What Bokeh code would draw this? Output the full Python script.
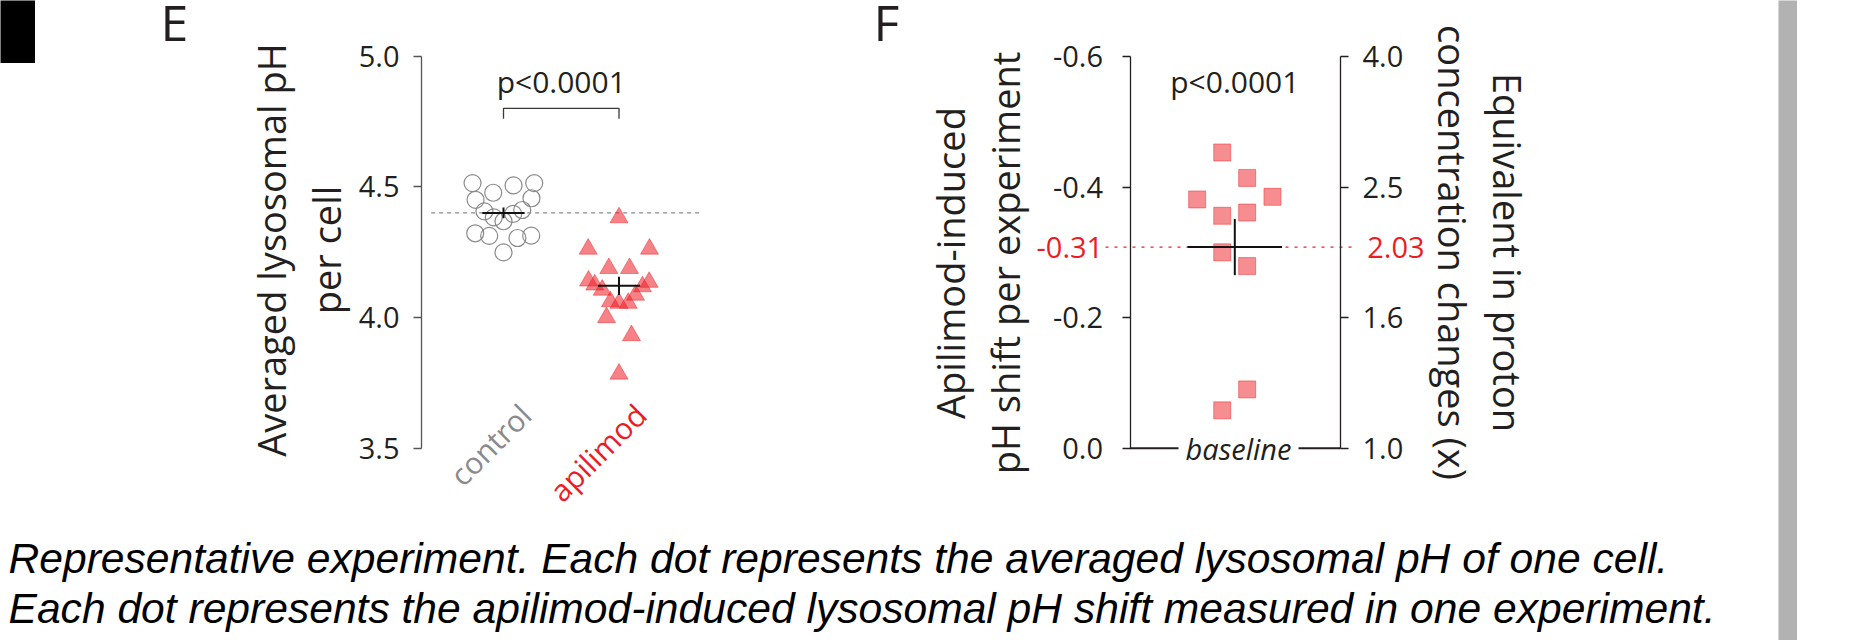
import math
from bokeh.plotting import figure
from bokeh.models import Range1d, FixedTicker, LinearAxis, Spacer
from bokeh.layouts import row, column
from bokeh.embed import file_html
from bokeh.resources import INLINE
from bokeh.core.properties import value

# ---------------------------------------------------------------- data
E_CATEGORIES = ["control", "apilimod"]
E_TICKS = [3.5, 4.0, 4.5, 5.0]
E_TICK_LABELS = ["3.5", "4.0", "4.5", "5.0"]
E_YLABEL = ["Averaged lysosomal pH", "per cell"]

CONTROL_PH = [4.514, 4.477, 4.505, 4.514, 4.450, 4.456, 4.406, 4.383,
              4.368, 4.396, 4.411, 4.322, 4.312, 4.304, 4.313, 4.249]
CONTROL_JITTER = [-0.268, -0.089, 0.087, 0.266, -0.242, 0.242, -0.165, -0.084,
                  0.0, 0.084, 0.162, -0.245, -0.124, 0.121, 0.240, 0.0]

APILIMOD_PH = [4.382, 4.262, 4.262, 4.188, 4.188, 4.140, 4.125, 4.105, 4.135,
               4.118, 4.086, 4.061, 4.055, 4.055, 4.000, 3.931, 3.784]
APILIMOD_JITTER = [0.0, -0.267, 0.264, -0.088, 0.091, -0.264, -0.210, -0.145, 0.261,
                   0.203, 0.143, -0.074, 0.0, 0.080, -0.108, 0.108, 0.0]

E_MEANS = [4.400, 4.121]
E_SEMS = [0.021, 0.035]
E_PVALUE = "p<0.0001"

F_SHIFT = [-0.453, -0.414, -0.381, -0.385, -0.356, -0.361, -0.300, -0.279, -0.090, -0.058]
F_JITTER = [-0.109, 0.107, -0.326, 0.326, -0.109, 0.107, -0.109, 0.107, 0.107, -0.109]
F_MEAN = -0.308
F_SEM = 0.043
F_PVALUE = "p<0.0001"
F_TICKS = [-0.6, -0.4, -0.2, 0.0]
F_LEFT_LABELS = ["-0.6", "-0.4", "-0.2", "0.0"]
F_RIGHT_LABELS = ["4.0", "2.5", "1.6", "1.0"]
F_MEAN_LABELS = ["-0.31", "2.03"]
F_YLABEL_LEFT = ["Apilimod-induced", "pH shift per experiment"]
F_YLABEL_RIGHT = ["Equivalent in proton", "concentration changes (x)"]

CAPTION = ["Representative experiment. Each dot represents the averaged lysosomal pH of one cell.",
           "Each dot represents the apilimod-induced lysosomal pH shift measured in one experiment."]

# ---------------------------------------------------------------- style
FONT = "Open Sans"
INK = "#231f20"
RED = "#ed1c24"
GRAY = "#8a8a8a"

# ---------------------------------------------------------------- geometry (page px)
FIG_TOP, FIG_H = 0, 514
CAT_STEP = 115.5                 # px per category unit
BOX_W, BOX_H = 35, 63
E_LEFT, E_W, E_BORDER = 35, 735, 100
E_CAT_PX = 503.0
E_Y5_PX, E_PPU = 55.5, 261.47
F_LEFT, F_W, F_BORDER = 770, 1008, 90
F_CAT_PX = 1234.3
F_TOP_PX, F_PPU = 56.0, 652.8
CAP_TOP, CAP_H = 514, 126
BAR_W = 19


def ex(px):
    return 1 + (px - E_CAT_PX) / CAT_STEP


def ey(py):
    return 5.0 - (py - E_Y5_PX) / E_PPU


def fx(px):
    return 1 + (px - F_CAT_PX) / CAT_STEP


def fy(py):
    return -0.6 + (py - F_TOP_PX) / F_PPU


def txt(p, x, y, s, size, color=INK, align="center", angle=0.0, style="normal", font=FONT):
    p.text(x=[x], y=[y], text=[s], text_font=value(font),
           text_font_size=value(f"{size}px"), text_color=color,
           text_align=value(align), text_baseline=value("middle"),
           angle=angle, text_font_style=value(style))


def base_fig(w, h, xr, yr, bl, br):
    p = figure(width=w, height=h, x_range=xr, y_range=yr, x_axis_location=None,
               toolbar_location=None, output_backend="svg", min_border=0,
               min_border_left=bl, min_border_right=br,
               outline_line_color=None, background_fill_color="white",
               border_fill_color="white")
    p.grid.visible = False
    return p


def style_axis(ax, ticks, labels, color, standoff):
    ax.ticker = FixedTicker(ticks=ticks)
    ax.major_label_overrides = dict(zip(ticks, labels))
    ax.bounds = (min(ticks), max(ticks))
    ax.minor_tick_line_color = None
    ax.major_tick_in = 0
    ax.major_tick_out = 8
    ax.axis_line_color = color
    ax.axis_line_width = 1.3
    ax.major_tick_line_color = color
    ax.major_tick_line_width = 1.3
    ax.major_label_text_font = FONT
    ax.major_label_text_font_size = "29px"
    ax.major_label_text_color = INK
    ax.major_label_standoff = standoff


# ================================================================ panel E
pE = base_fig(E_W, FIG_H,
              Range1d(ex(E_LEFT + E_BORDER), ex(E_LEFT + E_W)),
              Range1d(ey(FIG_TOP + FIG_H), ey(FIG_TOP)),
              E_BORDER, 0)
style_axis(pE.yaxis[0], E_TICKS, E_TICK_LABELS, "#555555", 14)
pE.yaxis[0].fixed_location = ex(421)

cat_x = [1, 2]
ctrl_x = [cat_x[0] + j for j in CONTROL_JITTER]
api_x = [cat_x[1] + j for j in APILIMOD_JITTER]

# control mean reference line
pE.segment(x0=[ex(430.7)], y0=[E_MEANS[0]], x1=[ex(701.7)], y1=[E_MEANS[0]],
           line_color=GRAY, line_dash="4 4", line_width=1.2)

pE.scatter(x=ctrl_x, y=CONTROL_PH, marker="circle", size=17, fill_color=None,
           line_color=GRAY, line_width=1.2)
pE.scatter(x=api_x, y=APILIMOD_PH, marker="triangle", size=18, fill_color=RED,
           fill_alpha=0.55, line_color=RED, line_alpha=0.45, line_width=1)

half = 0.183
pE.segment(x0=[c - half for c in cat_x], y0=E_MEANS, x1=[c + half for c in cat_x], y1=E_MEANS,
           line_color="#111111", line_width=2)
pE.segment(x0=cat_x, y0=[m - s for m, s in zip(E_MEANS, E_SEMS)],
           x1=cat_x, y1=[m + s for m, s in zip(E_MEANS, E_SEMS)],
           line_color="#111111", line_width=2)

# significance bracket
b_top, b_leg = 4.80, 0.04
pE.line(x=[cat_x[0], cat_x[0], cat_x[1], cat_x[1]],
        y=[b_top - b_leg, b_top, b_top, b_top - b_leg], line_color="#3a3a3a", line_width=1.3)
txt(pE, (cat_x[0] + cat_x[1]) / 2, ey(81.0), E_PVALUE, 30)

# category labels
lab_y = ey(409)
txt(pE, cat_x[0] + 0.19, lab_y, E_CATEGORIES[0], 30, color=GRAY, align="right",
    angle=math.pi / 4)
txt(pE, cat_x[1] + 0.19, lab_y, E_CATEGORIES[1], 30, color=RED, align="right",
    angle=math.pi / 4)

# axis title + panel letter
mid_e = ey(249.5)
txt(pE, ex(270.3), mid_e, E_YLABEL[0], 38, angle=math.pi / 2)
txt(pE, ex(325.0), mid_e, E_YLABEL[1], 38, angle=math.pi / 2)
txt(pE, ex(160), ey(21.0), "E", 50, align="left")

# ================================================================ panel F
pF = base_fig(F_W, FIG_H,
              Range1d(fx(F_LEFT + F_BORDER), fx(F_LEFT + F_W - F_BORDER)),
              Range1d(fy(FIG_TOP + FIG_H), fy(FIG_TOP)),
              F_BORDER, F_BORDER)
style_axis(pF.yaxis[0], F_TICKS, F_LEFT_LABELS, INK, 19)
pF.yaxis[0].fixed_location = fx(1129.5)
rax = LinearAxis()
style_axis(rax, F_TICKS, F_RIGHT_LABELS, INK, 14)
rax.fixed_location = fx(1340)
pF.add_layout(rax, "right")

f_cat = 1
sq_x = [f_cat + j for j in F_JITTER]

# mean reference (dotted, red)
pF.segment(x0=[fx(1105)], y0=[F_MEAN], x1=[fx(1353.3)], y1=[F_MEAN],
           line_color=RED, line_dash="3 6", line_width=1.3)
txt(pF, fx(1102.7), F_MEAN, F_MEAN_LABELS[0], 29, color=RED, align="right")
txt(pF, fx(1366.7), F_MEAN, F_MEAN_LABELS[1], 29, color=RED, align="left")

# baseline at 0
pF.segment(x0=[fx(1129.5), fx(1298)], y0=[0.0, 0.0], x1=[fx(1178), fx(1340)], y1=[0.0, 0.0],
           line_color=INK, line_width=2)
txt(pF, fx(1238), 0.0, "baseline", 29, style="italic")

pF.scatter(x=sq_x, y=F_SHIFT, marker="square", size=17, fill_color=RED, fill_alpha=0.5,
           line_color=RED, line_alpha=0.45, line_width=1)

fh = 0.409
pF.segment(x0=[f_cat - fh], y0=[F_MEAN], x1=[f_cat + fh], y1=[F_MEAN],
           line_color="#111111", line_width=2)
pF.segment(x0=[f_cat], y0=[F_MEAN - F_SEM], x1=[f_cat], y1=[F_MEAN + F_SEM],
           line_color="#111111", line_width=2)

txt(pF, f_cat, fy(81.0), F_PVALUE, 30)

mid_fl = fy(262.5)
txt(pF, fx(949.5), mid_fl, F_YLABEL_LEFT[0], 38, angle=math.pi / 2)
txt(pF, fx(1004.5), mid_fl, F_YLABEL_LEFT[1], 38, angle=math.pi / 2)
mid_fr = fy(252)
txt(pF, fx(1507.1), mid_fr, F_YLABEL_RIGHT[0], 38, angle=-math.pi / 2)
txt(pF, fx(1452.1), mid_fr, F_YLABEL_RIGHT[1], 38, angle=-math.pi / 2)
txt(pF, fx(873), fy(21.0), "F", 50, align="left")

# ================================================================ caption
CAP_W = E_LEFT + E_W + F_W
pC = figure(width=CAP_W, height=CAP_H, x_range=Range1d(0, CAP_W),
            y_range=Range1d(CAP_TOP + CAP_H, CAP_TOP), x_axis_location=None, y_axis_location=None,
            toolbar_location=None, output_backend="svg", min_border=0,
            outline_line_color=None, background_fill_color="white", border_fill_color="white")
pC.grid.visible = False
txt(pC, 8, 557, CAPTION[0], 42.6, color="#000000", align="left", style="italic",
    font="Liberation Sans")
txt(pC, 8, 607.5, CAPTION[1], 42.6, color="#000000", align="left", style="italic",
    font="Liberation Sans")

# ================================================================ decorations
box = figure(width=BOX_W, height=BOX_H, x_axis_location=None, y_axis_location=None,
             toolbar_location=None, output_backend="svg", min_border=0,
             outline_line_color=None, background_fill_color="black", border_fill_color="black")
box.grid.visible = False
bar = figure(width=BAR_W, height=FIG_H + CAP_H, x_axis_location=None, y_axis_location=None,
             toolbar_location=None, output_backend="svg", min_border=0,
             outline_line_color=None, background_fill_color="#b2b2b2", border_fill_color="#b2b2b2")
bar.grid.visible = False

top = row(column(box, Spacer(width=BOX_W, height=FIG_H - BOX_H)), pE, pF)
layout = row(column(top, pC), bar)

open("out.html", "w").write(file_html(layout, INLINE))
